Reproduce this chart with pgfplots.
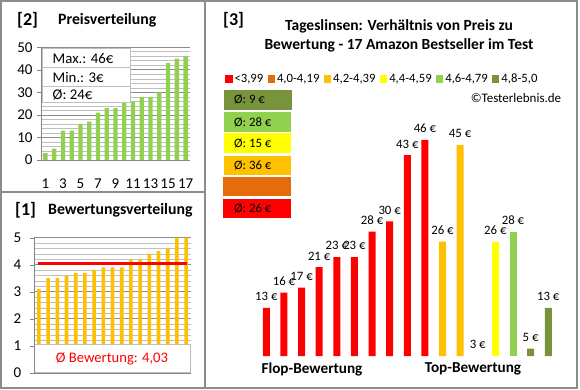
\documentclass[border=0pt]{standalone}
\usepackage{fontspec}
\setmainfont{Carlito}
\usepackage{pgfplots}
\pgfplotsset{compat=1.18}
\definecolor{xred}{HTML}{FF0000}
\definecolor{xorange}{HTML}{E46C0A}
\definecolor{xgold}{HTML}{FFC000}
\definecolor{xyellow}{HTML}{FFFF00}
\definecolor{xlgreen}{HTML}{92D050}
\definecolor{xdgreen}{HTML}{77933C}
\definecolor{framegray}{HTML}{8C8C8C}
\definecolor{axgray}{HTML}{868686}
\definecolor{majgrid}{HTML}{8C8C8C}
\definecolor{mingrid}{HTML}{BFBFBF}
\definecolor{boxgray}{HTML}{BFBFBF}
\newcommand{\fs}[1]{\fontsize{#1}{#1}\selectfont}
\begin{document}
\begin{tikzpicture}
\useasboundingbox (0pt,0pt) rectangle (580pt,-390pt);
\fill[white] (0pt,0pt) rectangle (580pt,-390pt);

% ---------------- [2] Preisverteilung
\begin{axis}[
  at={(41pt,-160pt)}, anchor=south west, scale only axis,
  width=149pt, height=112.7pt,
  xmin=0.5, xmax=17.5, ymin=0, ymax=50,
  axis x line*=bottom, axis y line*=left,
  axis line style={draw=axgray, -},
  ytick={0,10,...,50}, xtick={1,3,...,17},
  minor y tick num=4,
  ymajorgrids, yminorgrids,
  major grid style={draw=majgrid, line width=0.7pt},
  minor grid style={draw=mingrid, line width=0.7pt},
  ytick style={draw=axgray}, xtick style={draw=none},
  major tick length=4pt, minor tick length=0pt, tick align=outside,
  ticklabel style={font=\fs{15}, text=black},
  /pgf/number format/assume math mode=true,
  xticklabel style={yshift=-11pt},
  yticklabel style={xshift=-1pt},
]
\addplot[ybar, bar width=4.3pt, bar shift=0pt, fill=xlgreen, draw=none] coordinates {
(1,3) (2,5) (3,13) (4,13) (5,16) (6,17) (7,21) (8,23) (9,23) (10,26) (11,26) (12,28) (13,28) (14,30) (15,43) (16,45) (17,46)};
\end{axis}
\draw[boxgray, fill=white, line width=0.8pt] (42pt,-48.3pt) rectangle (130pt,-102.7pt);
\draw[boxgray, line width=0.8pt] (42pt,-67.3pt) -- (130pt,-67.3pt) (42pt,-86pt) -- (130pt,-86pt);
\node[anchor=west, font=\fs{14.8}, inner sep=0pt] at (52.5pt,-58.5pt) {Max.: 46€};
\node[anchor=west, font=\fs{14.8}, inner sep=0pt] at (52.5pt,-77.5pt) {Min.: 3€};
\node[anchor=west, font=\fs{14.8}, inner sep=0pt] at (52.5pt,-95pt) {Ø: 24€};
\node[anchor=base west, font=\bfseries\fs{18}, inner sep=0pt] at (17pt,-25.5pt) {[2]};
\node[anchor=base west, font=\bfseries\fs{15.8}, inner sep=0pt] at (58pt,-24.5pt) {Preisverteilung};

% ---------------- [1] Bewertungsverteilung
\begin{axis}[
  at={(34.3pt,-372.7pt)}, anchor=south west, scale only axis,
  width=156.4pt, height=135pt,
  xmin=0.5, xmax=17.5, ymin=0, ymax=5,
  axis x line*=bottom, axis y line*=left,
  axis line style={draw=axgray, -},
  ytick={0,1,...,5}, xtick=\empty,
  minor y tick num=4,
  ymajorgrids, yminorgrids,
  major grid style={draw=majgrid, line width=0.7pt},
  minor grid style={draw=mingrid, line width=0.7pt},
  ytick style={draw=axgray},
  major tick length=4.5pt, minor tick length=0pt, tick align=outside,
  ticklabel style={font=\fs{15}, text=black},
  /pgf/number format/assume math mode=true,
  yticklabel style={xshift=-5pt},
]
\addplot[ybar, bar width=3.6pt, bar shift=0pt, fill=xgold, draw=none] coordinates {
(1,3.1) (2,3.5) (3,3.5) (4,3.6) (5,3.7) (6,3.7) (7,3.8) (8,3.9) (9,3.9) (10,3.9) (11,4.2) (12,4.2) (13,4.4) (14,4.5) (15,4.6) (16,5.0) (17,5.0)};
\addplot[xred, line width=3pt] coordinates {(0.9,4.03) (17.1,4.03)};
\end{axis}
\draw[boxgray, fill=white, line width=0.8pt] (34.3pt,-344pt) rectangle (190.7pt,-372.7pt);
\draw[axgray, line width=0.8pt] (34.3pt,-344pt) -- (34.3pt,-372.7pt);
\node[font=\fs{14.6}, text=xred, inner sep=0pt] at (112pt,-358.5pt) {Ø Bewertung: 4,03};
\node[anchor=base west, font=\bfseries\fs{18}, inner sep=0pt] at (15pt,-215.5pt) {[1]};
\node[anchor=base west, font=\bfseries\fs{15.8}, inner sep=0pt] at (48pt,-214.5pt) {Bewertungsverteilung};

% ---------------- [3] Preis zu Bewertung
\begin{axis}[
  at={(257.5pt,-356pt)}, anchor=south west, scale only axis,
  width=299.6pt, height=246.6pt,
  xmin=0.5, xmax=17.5, ymin=3.55, ymax=52,
  hide axis,
  point meta=explicit symbolic,
  nodes near coords,
  every node near coord/.append style={font=\fs{12.8}, text=black, yshift=3.5pt},
  legend image code/.code={\fill[#1] (0pt,-3.6pt) rectangle (7.2pt,3.6pt);},
  legend columns=-1,
  legend style={at={(-0.108,1.1233)}, anchor=west, draw=none, fill=none,
    inner sep=0pt, font=\fs{12.7},
    /tikz/every even column/.append style={column sep=2.5pt}},
]
\addplot[ybar, bar width=7pt, bar shift=0pt, fill=xred, draw=none] coordinates {
(1,13) [13 €] (2,16) [16 €] (3,17) [17 €] (4,21) [21 €] (5,23) [23 €] (6,23) [23 €] (7,28) [28 €] (8,30) [30 €] (9,43) [43 €] (10,46) [46 €]};
\addlegendentry{<3,99}
\addlegendimage{fill=xorange, draw=none}
\addlegendentry{4,0-4,19}
\addplot[ybar, bar width=7pt, bar shift=0pt, fill=xgold, draw=none] coordinates {
(11,26) [26 €] (12,45) [45 €]};
\addlegendentry{4,2-4,39}
\addplot[ybar, bar width=7pt, bar shift=0pt, fill=xyellow, draw=none] coordinates {
(14,26) [26 €]};
\addlegendentry{4,4-4,59}
\addplot[ybar, bar width=7pt, bar shift=0pt, fill=xlgreen, draw=none] coordinates {
(15,28) [28 €]};
\addlegendentry{4,6-4,79}
\addplot[ybar, bar width=7pt, bar shift=0pt, fill=xdgreen, draw=none] coordinates {
(16,5) [5 €] (17,13) [13 €]};
\addlegendentry{4,8-5,0}
% yellow product priced 3 EUR: its bar lies below the axis floor (3.55), so only its label shows, at the floor
\addplot[only marks, mark=*, mark size=0pt, mark options={draw=none, fill=none}, forget plot] coordinates {(13,3.55) [3 €]};
\end{axis}
\node[anchor=base west, font=\bfseries\fs{18}, inner sep=0pt] at (223pt,-26pt) {[3]};
\node[anchor=base, font=\bfseries\fs{15.5}, inner sep=0pt] at (399pt,-30.7pt) {Tageslinsen: Verhältnis von Preis zu};
\node[anchor=base, font=\bfseries\fs{15.5}, inner sep=0pt] at (399pt,-50pt) {Bewertung - 17 Amazon Bestseller im Test};
\node[font=\fs{13}, inner sep=0pt] at (516pt,-98.5pt) {©Testerlebnis.de};
\node[font=\bfseries\fs{15.2}, inner sep=0pt] at (312pt,-369pt) {Flop-Bewertung};
\node[font=\bfseries\fs{15.2}, inner sep=0pt] at (473pt,-369pt) {Top-Bewertung};
% average boxes
\fill[xdgreen] (224pt,-90pt) rectangle (292pt,-109.7pt);
\fill[xlgreen] (224pt,-112.3pt) rectangle (291pt,-131.7pt);
\fill[xyellow] (224pt,-133.3pt) rectangle (291pt,-153.3pt);
\fill[xgold] (224pt,-156pt) rectangle (291pt,-175pt);
\fill[xorange] (223pt,-177.3pt) rectangle (291pt,-196pt);
\fill[xred] (223pt,-199pt) rectangle (291pt,-217.7pt);
\node[anchor=west, font=\fs{12.8}, inner sep=0pt] at (234pt,-100pt) {Ø: 9 €};
\node[anchor=west, font=\fs{12.8}, inner sep=0pt] at (234pt,-122pt) {Ø: 28 €};
\node[anchor=west, font=\fs{12.8}, inner sep=0pt] at (234pt,-143.5pt) {Ø: 15 €};
\node[anchor=west, font=\fs{12.8}, inner sep=0pt] at (234pt,-165.5pt) {Ø: 36 €};
\node[anchor=west, font=\fs{12.8}, inner sep=0pt] at (234pt,-208.5pt) {Ø: 26 €};

% frames
\draw[framegray, line width=1.3pt] (1pt,-1pt) rectangle (577pt,-388pt);
\draw[framegray, line width=1.3pt] (205pt,-1pt) -- (205pt,-388pt);
\draw[framegray, line width=1.3pt] (1pt,-192pt) -- (205pt,-192pt);
\end{tikzpicture}
\end{document}
